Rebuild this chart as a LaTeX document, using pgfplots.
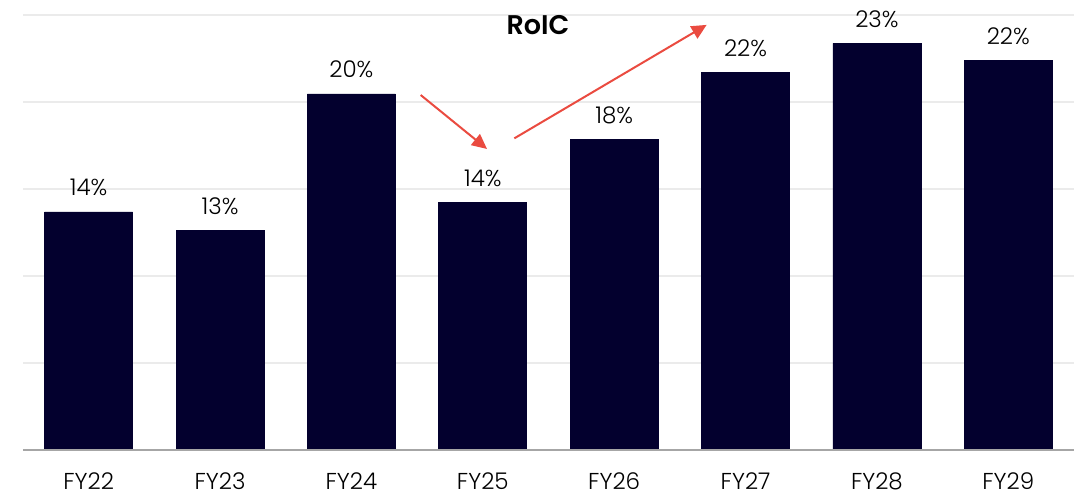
\documentclass[border=0pt]{standalone}
\usepackage{fontspec}
\setmainfont{Poppins Light}[BoldFont={Poppins SemiBold}]
\usepackage{pgfplots}
\pgfplotsset{compat=1.18}
\usetikzlibrary{arrows.meta}
\definecolor{barc}{HTML}{03002E}
\definecolor{gridc}{HTML}{EBEBEB}
\definecolor{basec}{HTML}{A6A6A6}
\definecolor{arrc}{HTML}{EA4B40}
\begin{document}
\begin{tikzpicture}
\begin{axis}[
  scale only axis,
  width=525.5pt, height=225pt,
  xmin=-0.5, xmax=7.5,
  ymin=0, ymax=25.86,
  axis lines=none,
  xtick=\empty,
  ytick=\empty,
  font=\fontsize{11.5}{14}\selectfont,
  /pgf/number format/assume math mode=true,
  clip=false,
]
% grid lines
\foreach \g in {5,10,15,20,25} {
  \edef\tmp{\noexpand\draw[gridc, line width=0.9pt] (axis cs:-0.5,\g) -- (axis cs:7.5,\g);}
  \tmp
}
\addplot[ybar, bar width=0.67, fill=barc, draw=barc,
  nodes near coords={\pgfmathprintnumber[fixed,precision=0,assume math mode=true]{\pgfplotspointmeta}\%},
  every node near coord/.append style={anchor=base, yshift=8pt, text=black, font=\fontsize{11.5}{14}\selectfont}]
  coordinates {(0,13.68) (1,12.64) (2,20.46) (3,14.21) (4,17.87) (5,21.68) (6,23.37) (7,22.37)};
\draw[basec, line width=1pt] (axis cs:-0.5,0) -- (axis cs:7.5,0);
\foreach \i/\l in {0/FY22,1/FY23,2/FY24,3/FY25,4/FY26,5/FY27,6/FY28,7/FY29} {
  \edef\tmp{\noexpand\node[anchor=base, text=black] at (axis cs:\i,0) [yshift=-19.5pt] {\l};}
  \tmp
}
\draw[arrc, line width=1pt, -{Triangle[length=7.5pt,width=7pt]}] (axis cs:2.527,20.4) -- (axis cs:3.032,17.3);
\draw[arrc, line width=1pt, -{Triangle[length=7.5pt,width=7pt]}] (axis cs:3.240,17.91) -- (axis cs:4.704,24.43);
\node[font=\bfseries\fontsize{13.5}{16}\selectfont] at (axis cs:3.42,24.4) {RoIC};
\end{axis}
\pgfresetboundingbox
\path[use as bounding box] (-11.5pt,-22.5pt) rectangle (531.5pt,225pt);
\end{tikzpicture}
\end{document}
